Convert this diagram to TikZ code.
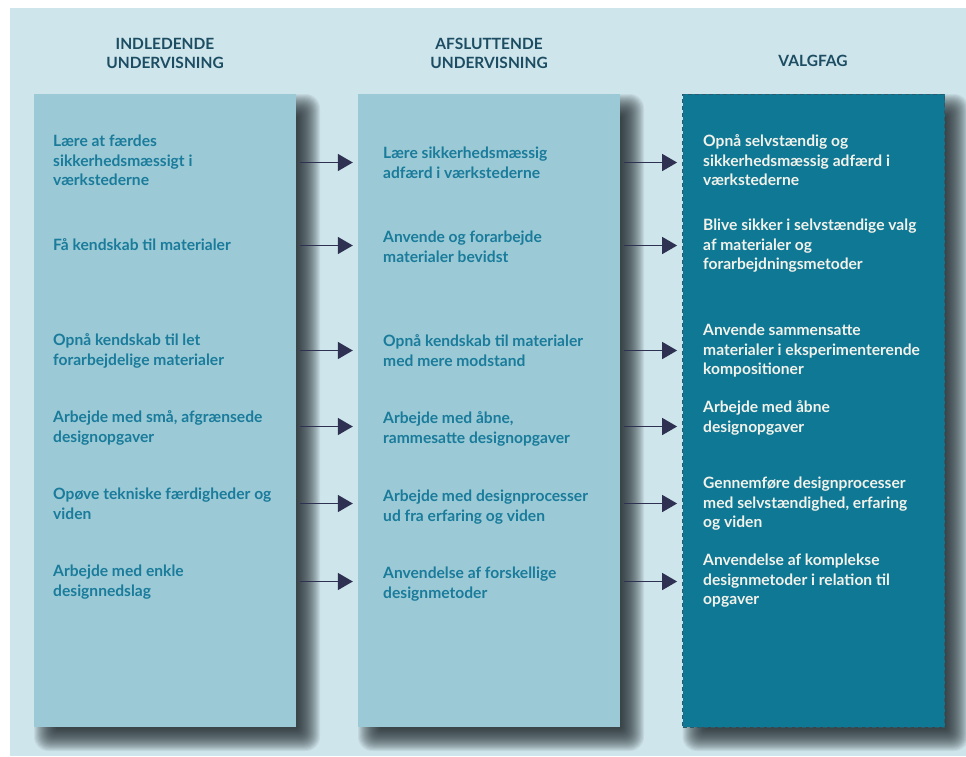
\documentclass[tikz,border=0pt]{standalone}
\usepackage{fontspec}
\setmainfont{Lato}
\usetikzlibrary{arrows.meta}
\definecolor{bgc}{HTML}{CEE5EB}
\definecolor{colfill}{HTML}{9BCAD6}
\definecolor{valgfill}{HTML}{0E7895}
\definecolor{coltext}{HTML}{1A7B9B}
\definecolor{valgtext}{HTML}{F2F2EA}
\definecolor{headtext}{HTML}{1C4D63}
\definecolor{arrowc}{HTML}{2E3152}
\definecolor{dashc}{HTML}{2B5B6C}
\definecolor{shadc}{HTML}{1E2529}
\begin{document}
\begin{tikzpicture}[x=1pt,y=-1pt,
  colbox/.style={rectangle, inner sep=0pt, minimum width=262pt, minimum height=633pt},
  shadowlayer/.style={fill=shadc, opacity=0.068},
  header/.style={font=\bfseries\fontsize{15.5}{19}\selectfont, text=headtext, align=center, anchor=base, inner sep=0pt},
  item/.style={font=\bfseries\fontsize{15.6}{19.6}\selectfont, text=coltext, align=left, anchor=base west, inner sep=0pt},
  vitem/.style={item, text=valgtext},
  arr/.style={draw=arrowc, line width=1.6pt, -{Triangle[length=15pt,width=17pt]}}
]
\useasboundingbox (0,0) rectangle (966,756);
\fill[white] (0,0) rectangle (966,756);
\fill[bgc] (10,8) rectangle (966,756);

% soft drop shadows behind the three columns
\foreach \L in {34,358,682.5}{
  \foreach \i in {0,...,23}{
    \pgfmathsetmacro\rr{max(0.5,(24-\i)*0.6)}
    \fill[shadowlayer, rounded corners=\rr pt] ({\L+\i},{94+\i}) rectangle ({\L+262+24-\i},{727+24-\i});
  }
}

\node[colbox, fill=colfill] (c1) at (165,410.5) {};
\node[colbox, fill=colfill] (c2) at (489,410.5) {};
\node[colbox, fill=valgfill, draw=dashc, line width=0.8pt, dash pattern=on 4pt off 3pt] (c3) at (813.5,410.5) {};

% base anchor = baseline of last line
\node[header] (h1) at (165,68) {INDLEDENDE\\UNDERVISNING};
\node[header] (h2) at (489,68) {AFSLUTTENDE\\UNDERVISNING};
\node[header] (h3) at (813,66) {VALGFAG};

\node[item] (a1) at (53,185.7) {Lære at færdes\\sikkerhedsmæssigt i\\værkstederne};
\node[item] (a2) at (53,250.5) {Få kendskab til materialer};
\node[item] (a3) at (53,365.1) {Opnå kendskab til let\\forarbejdelige materialer};
\node[item] (a4) at (53,442.1) {Arbejde med små, afgrænsede\\designopgaver};
\node[item] (a5) at (53,519.1) {Opøve tekniske færdigheder og\\viden};
\node[item] (a6) at (53,596.1) {Arbejde med enkle\\designnedslag};

\node[item] (b1) at (383,178.1) {Lære sikkerhedsmæssig\\adfærd i værkstederne};
\node[item] (b2) at (383,262.1) {Anvende og forarbejde\\materialer bevidst};
\node[item] (b3) at (383,366.1) {Opnå kendskab til materialer\\med mere modstand};
\node[item] (b4) at (383,443.1) {Arbejde med åbne,\\rammesatte designopgaver};
\node[item] (b5) at (383,521.1) {Arbejde med designprocesser\\ud fra erfaring og viden};
\node[item] (b6) at (383,598.1) {Anvendelse af forskellige\\designmetoder};

\node[vitem] (v1) at (703,185.7) {Opnå selvstændig og\\sikkerhedsmæssig adfærd i\\værkstederne};
\node[vitem] (v2) at (703,269.7) {Blive sikker i selvstændige valg\\af materialer og\\forarbejdningsmetoder};
\node[vitem] (v3) at (703,374.7) {Anvende sammensatte\\materialer i eksperimenterende\\kompositioner};
\node[vitem] (v4) at (703,432.1) {Arbejde med åbne\\designopgaver};
\node[vitem] (v5) at (703,527.7) {Gennemføre designprocesser\\med selvstændighed, erfaring\\og viden};
\node[vitem] (v6) at (703,604.7) {Anvendelse af komplekse\\designmetoder i relation til\\opgaver};

\foreach \yy in {162.5,245.5,350.5,426.5,503.5,581.5}{
  \draw[arr] ([xshift=4pt]c1.east |- 0,\yy) -- ([xshift=-5pt]c2.west |- 0,\yy);
  \draw[arr] ([xshift=4pt]c2.east |- 0,\yy) -- ([xshift=-5pt]c3.west |- 0,\yy);
}
\end{tikzpicture}
\end{document}
